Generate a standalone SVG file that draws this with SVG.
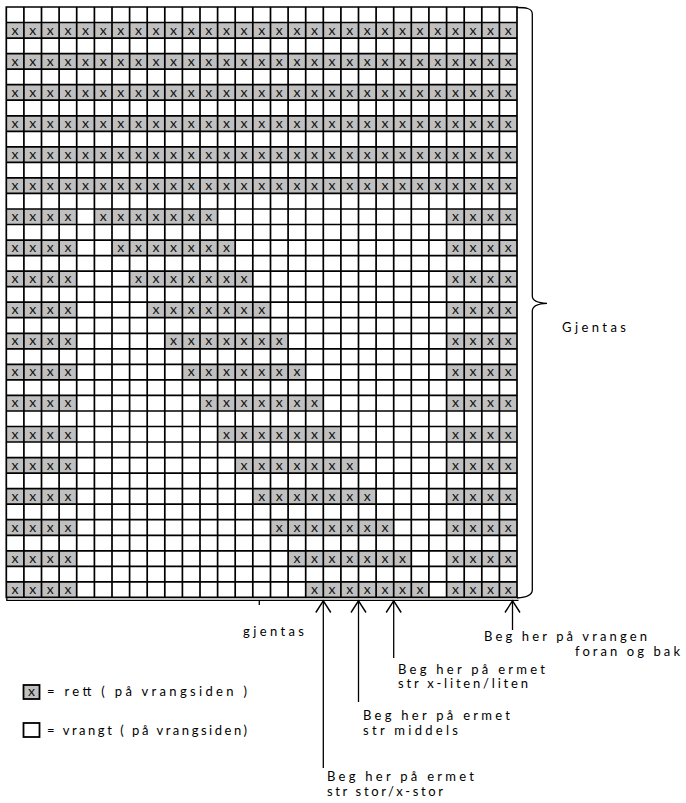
<svg xmlns="http://www.w3.org/2000/svg" width="686" height="803" viewBox="0 0 686 803">
<style>
.g{fill:#c0c0c0}
.xs text{font-family:Lato,"Liberation Sans",sans-serif;font-size:14px;text-anchor:middle;fill:#111}
.grid{fill:none;stroke:#000;stroke-width:1.7;stroke-linecap:square}
.thin{fill:none;stroke:#000;stroke-width:1.3}
.lbl{font-family:Lato,"Liberation Sans",sans-serif;font-size:13px;fill:#000}
</style>
<defs>
<marker id="ah" viewBox="-13 -9 14 18" refX="0" refY="0" markerWidth="14" markerHeight="18" markerUnits="userSpaceOnUse" orient="auto" overflow="visible">
<path d="M-11.7 -7.5L0 0L-11.7 7.5" fill="none" stroke="#000" stroke-width="1.4"/>
</marker>
</defs>
<rect width="686" height="803" fill="#fff"/>
<g id="chart">
<g id="fills">
<rect class="g" x="6.3" y="22.5" width="510.7" height="15.5"/>
<rect class="g" x="6.3" y="53.6" width="510.7" height="15.5"/>
<rect class="g" x="6.3" y="84.7" width="510.7" height="15.5"/>
<rect class="g" x="6.3" y="115.8" width="510.7" height="15.5"/>
<rect class="g" x="6.3" y="146.8" width="510.7" height="15.5"/>
<rect class="g" x="6.3" y="177.9" width="510.7" height="15.5"/>
<rect class="g" x="6.3" y="209" width="70.4" height="15.5"/><rect class="g" x="94.4" y="209" width="123.3" height="15.5"/><rect class="g" x="446.6" y="209" width="70.4" height="15.5"/>
<rect class="g" x="6.3" y="240.1" width="70.4" height="15.5"/><rect class="g" x="112" y="240.1" width="123.3" height="15.5"/><rect class="g" x="446.6" y="240.1" width="70.4" height="15.5"/>
<rect class="g" x="6.3" y="271.1" width="70.4" height="15.5"/><rect class="g" x="129.6" y="271.1" width="123.3" height="15.5"/><rect class="g" x="446.6" y="271.1" width="70.4" height="15.5"/>
<rect class="g" x="6.3" y="302.2" width="70.4" height="15.5"/><rect class="g" x="147.2" y="302.2" width="123.3" height="15.5"/><rect class="g" x="446.6" y="302.2" width="70.4" height="15.5"/>
<rect class="g" x="6.3" y="333.3" width="70.4" height="15.5"/><rect class="g" x="164.8" y="333.3" width="123.3" height="15.5"/><rect class="g" x="446.6" y="333.3" width="70.4" height="15.5"/>
<rect class="g" x="6.3" y="364.4" width="70.4" height="15.5"/><rect class="g" x="182.4" y="364.4" width="123.3" height="15.5"/><rect class="g" x="446.6" y="364.4" width="70.4" height="15.5"/>
<rect class="g" x="6.3" y="395.4" width="70.4" height="15.5"/><rect class="g" x="200" y="395.4" width="123.3" height="15.5"/><rect class="g" x="446.6" y="395.4" width="70.4" height="15.5"/>
<rect class="g" x="6.3" y="426.5" width="70.4" height="15.5"/><rect class="g" x="217.6" y="426.5" width="123.3" height="15.5"/><rect class="g" x="446.6" y="426.5" width="70.4" height="15.5"/>
<rect class="g" x="6.3" y="457.6" width="70.4" height="15.5"/><rect class="g" x="235.2" y="457.6" width="123.3" height="15.5"/><rect class="g" x="446.6" y="457.6" width="70.4" height="15.5"/>
<rect class="g" x="6.3" y="488.6" width="70.4" height="15.5"/><rect class="g" x="252.8" y="488.6" width="123.3" height="15.5"/><rect class="g" x="446.6" y="488.6" width="70.4" height="15.5"/>
<rect class="g" x="6.3" y="519.7" width="70.4" height="15.5"/><rect class="g" x="270.5" y="519.7" width="123.3" height="15.5"/><rect class="g" x="446.6" y="519.7" width="70.4" height="15.5"/>
<rect class="g" x="6.3" y="550.8" width="70.4" height="15.5"/><rect class="g" x="288.1" y="550.8" width="123.3" height="15.5"/><rect class="g" x="446.6" y="550.8" width="70.4" height="15.5"/>
<rect class="g" x="6.3" y="581.9" width="70.4" height="15.5"/><rect class="g" x="305.7" y="581.9" width="123.3" height="15.5"/><rect class="g" x="446.6" y="581.9" width="70.4" height="15.5"/>
</g>
<path class="grid" d="M6.3 7V597.4M23.9 7V597.4M41.5 7V597.4M59.1 7V597.4M76.7 7V597.4M94.4 7V597.4M112 7V597.4M129.6 7V597.4M147.2 7V597.4M164.8 7V597.4M182.4 7V597.4M200 7V597.4M217.6 7V597.4M235.2 7V597.4M252.8 7V597.4M270.5 7V597.4M288.1 7V597.4M305.7 7V597.4M323.3 7V597.4M340.9 7V597.4M358.5 7V597.4M376.1 7V597.4M393.7 7V597.4M411.3 7V597.4M428.9 7V597.4M446.6 7V597.4M464.2 7V597.4M481.8 7V597.4M499.4 7V597.4M517 7V597.4
M6.3 7H517M6.3 22.5H517M6.3 38.1H517M6.3 53.6H517M6.3 69.1H517M6.3 84.7H517M6.3 100.2H517M6.3 115.8H517M6.3 131.3H517M6.3 146.8H517M6.3 162.4H517M6.3 177.9H517M6.3 193.4H517M6.3 209H517M6.3 224.5H517M6.3 240.1H517M6.3 255.6H517M6.3 271.1H517M6.3 286.7H517M6.3 302.2H517M6.3 317.7H517M6.3 333.3H517M6.3 348.8H517M6.3 364.4H517M6.3 379.9H517M6.3 395.4H517M6.3 411H517M6.3 426.5H517M6.3 442H517M6.3 457.6H517M6.3 473.1H517M6.3 488.6H517M6.3 504.2H517M6.3 519.7H517M6.3 535.3H517M6.3 550.8H517M6.3 566.3H517M6.3 581.9H517M6.3 597.4H517"/>
<g class="xs" transform="translate(0 34.5)"><text x="15.1">x</text><text x="32.7">x</text><text x="50.3">x</text><text x="67.9">x</text><text x="85.5">x</text><text x="103.2">x</text><text x="120.8">x</text><text x="138.4">x</text><text x="156">x</text><text x="173.6">x</text><text x="191.2">x</text><text x="208.8">x</text><text x="226.4">x</text><text x="244">x</text><text x="261.7">x</text><text x="279.3">x</text><text x="296.9">x</text><text x="314.5">x</text><text x="332.1">x</text><text x="349.7">x</text><text x="367.3">x</text><text x="384.9">x</text><text x="402.5">x</text><text x="420.1">x</text><text x="437.8">x</text><text x="455.4">x</text><text x="473">x</text><text x="490.6">x</text><text x="508.2">x</text></g>
<g class="xs" transform="translate(0 65.6)"><text x="15.1">x</text><text x="32.7">x</text><text x="50.3">x</text><text x="67.9">x</text><text x="85.5">x</text><text x="103.2">x</text><text x="120.8">x</text><text x="138.4">x</text><text x="156">x</text><text x="173.6">x</text><text x="191.2">x</text><text x="208.8">x</text><text x="226.4">x</text><text x="244">x</text><text x="261.7">x</text><text x="279.3">x</text><text x="296.9">x</text><text x="314.5">x</text><text x="332.1">x</text><text x="349.7">x</text><text x="367.3">x</text><text x="384.9">x</text><text x="402.5">x</text><text x="420.1">x</text><text x="437.8">x</text><text x="455.4">x</text><text x="473">x</text><text x="490.6">x</text><text x="508.2">x</text></g>
<g class="xs" transform="translate(0 96.7)"><text x="15.1">x</text><text x="32.7">x</text><text x="50.3">x</text><text x="67.9">x</text><text x="85.5">x</text><text x="103.2">x</text><text x="120.8">x</text><text x="138.4">x</text><text x="156">x</text><text x="173.6">x</text><text x="191.2">x</text><text x="208.8">x</text><text x="226.4">x</text><text x="244">x</text><text x="261.7">x</text><text x="279.3">x</text><text x="296.9">x</text><text x="314.5">x</text><text x="332.1">x</text><text x="349.7">x</text><text x="367.3">x</text><text x="384.9">x</text><text x="402.5">x</text><text x="420.1">x</text><text x="437.8">x</text><text x="455.4">x</text><text x="473">x</text><text x="490.6">x</text><text x="508.2">x</text></g>
<g class="xs" transform="translate(0 127.8)"><text x="15.1">x</text><text x="32.7">x</text><text x="50.3">x</text><text x="67.9">x</text><text x="85.5">x</text><text x="103.2">x</text><text x="120.8">x</text><text x="138.4">x</text><text x="156">x</text><text x="173.6">x</text><text x="191.2">x</text><text x="208.8">x</text><text x="226.4">x</text><text x="244">x</text><text x="261.7">x</text><text x="279.3">x</text><text x="296.9">x</text><text x="314.5">x</text><text x="332.1">x</text><text x="349.7">x</text><text x="367.3">x</text><text x="384.9">x</text><text x="402.5">x</text><text x="420.1">x</text><text x="437.8">x</text><text x="455.4">x</text><text x="473">x</text><text x="490.6">x</text><text x="508.2">x</text></g>
<g class="xs" transform="translate(0 158.8)"><text x="15.1">x</text><text x="32.7">x</text><text x="50.3">x</text><text x="67.9">x</text><text x="85.5">x</text><text x="103.2">x</text><text x="120.8">x</text><text x="138.4">x</text><text x="156">x</text><text x="173.6">x</text><text x="191.2">x</text><text x="208.8">x</text><text x="226.4">x</text><text x="244">x</text><text x="261.7">x</text><text x="279.3">x</text><text x="296.9">x</text><text x="314.5">x</text><text x="332.1">x</text><text x="349.7">x</text><text x="367.3">x</text><text x="384.9">x</text><text x="402.5">x</text><text x="420.1">x</text><text x="437.8">x</text><text x="455.4">x</text><text x="473">x</text><text x="490.6">x</text><text x="508.2">x</text></g>
<g class="xs" transform="translate(0 189.9)"><text x="15.1">x</text><text x="32.7">x</text><text x="50.3">x</text><text x="67.9">x</text><text x="85.5">x</text><text x="103.2">x</text><text x="120.8">x</text><text x="138.4">x</text><text x="156">x</text><text x="173.6">x</text><text x="191.2">x</text><text x="208.8">x</text><text x="226.4">x</text><text x="244">x</text><text x="261.7">x</text><text x="279.3">x</text><text x="296.9">x</text><text x="314.5">x</text><text x="332.1">x</text><text x="349.7">x</text><text x="367.3">x</text><text x="384.9">x</text><text x="402.5">x</text><text x="420.1">x</text><text x="437.8">x</text><text x="455.4">x</text><text x="473">x</text><text x="490.6">x</text><text x="508.2">x</text></g>
<g class="xs" transform="translate(0 221)"><text x="15.1">x</text><text x="32.7">x</text><text x="50.3">x</text><text x="67.9">x</text><text x="103.2">x</text><text x="120.8">x</text><text x="138.4">x</text><text x="156">x</text><text x="173.6">x</text><text x="191.2">x</text><text x="208.8">x</text><text x="455.4">x</text><text x="473">x</text><text x="490.6">x</text><text x="508.2">x</text></g>
<g class="xs" transform="translate(0 252.1)"><text x="15.1">x</text><text x="32.7">x</text><text x="50.3">x</text><text x="67.9">x</text><text x="120.8">x</text><text x="138.4">x</text><text x="156">x</text><text x="173.6">x</text><text x="191.2">x</text><text x="208.8">x</text><text x="226.4">x</text><text x="455.4">x</text><text x="473">x</text><text x="490.6">x</text><text x="508.2">x</text></g>
<g class="xs" transform="translate(0 283.1)"><text x="15.1">x</text><text x="32.7">x</text><text x="50.3">x</text><text x="67.9">x</text><text x="138.4">x</text><text x="156">x</text><text x="173.6">x</text><text x="191.2">x</text><text x="208.8">x</text><text x="226.4">x</text><text x="244">x</text><text x="455.4">x</text><text x="473">x</text><text x="490.6">x</text><text x="508.2">x</text></g>
<g class="xs" transform="translate(0 314.2)"><text x="15.1">x</text><text x="32.7">x</text><text x="50.3">x</text><text x="67.9">x</text><text x="156">x</text><text x="173.6">x</text><text x="191.2">x</text><text x="208.8">x</text><text x="226.4">x</text><text x="244">x</text><text x="261.7">x</text><text x="455.4">x</text><text x="473">x</text><text x="490.6">x</text><text x="508.2">x</text></g>
<g class="xs" transform="translate(0 345.3)"><text x="15.1">x</text><text x="32.7">x</text><text x="50.3">x</text><text x="67.9">x</text><text x="173.6">x</text><text x="191.2">x</text><text x="208.8">x</text><text x="226.4">x</text><text x="244">x</text><text x="261.7">x</text><text x="279.3">x</text><text x="455.4">x</text><text x="473">x</text><text x="490.6">x</text><text x="508.2">x</text></g>
<g class="xs" transform="translate(0 376.4)"><text x="15.1">x</text><text x="32.7">x</text><text x="50.3">x</text><text x="67.9">x</text><text x="191.2">x</text><text x="208.8">x</text><text x="226.4">x</text><text x="244">x</text><text x="261.7">x</text><text x="279.3">x</text><text x="296.9">x</text><text x="455.4">x</text><text x="473">x</text><text x="490.6">x</text><text x="508.2">x</text></g>
<g class="xs" transform="translate(0 407.4)"><text x="15.1">x</text><text x="32.7">x</text><text x="50.3">x</text><text x="67.9">x</text><text x="208.8">x</text><text x="226.4">x</text><text x="244">x</text><text x="261.7">x</text><text x="279.3">x</text><text x="296.9">x</text><text x="314.5">x</text><text x="455.4">x</text><text x="473">x</text><text x="490.6">x</text><text x="508.2">x</text></g>
<g class="xs" transform="translate(0 438.5)"><text x="15.1">x</text><text x="32.7">x</text><text x="50.3">x</text><text x="67.9">x</text><text x="226.4">x</text><text x="244">x</text><text x="261.7">x</text><text x="279.3">x</text><text x="296.9">x</text><text x="314.5">x</text><text x="332.1">x</text><text x="455.4">x</text><text x="473">x</text><text x="490.6">x</text><text x="508.2">x</text></g>
<g class="xs" transform="translate(0 469.6)"><text x="15.1">x</text><text x="32.7">x</text><text x="50.3">x</text><text x="67.9">x</text><text x="244">x</text><text x="261.7">x</text><text x="279.3">x</text><text x="296.9">x</text><text x="314.5">x</text><text x="332.1">x</text><text x="349.7">x</text><text x="455.4">x</text><text x="473">x</text><text x="490.6">x</text><text x="508.2">x</text></g>
<g class="xs" transform="translate(0 500.6)"><text x="15.1">x</text><text x="32.7">x</text><text x="50.3">x</text><text x="67.9">x</text><text x="261.7">x</text><text x="279.3">x</text><text x="296.9">x</text><text x="314.5">x</text><text x="332.1">x</text><text x="349.7">x</text><text x="367.3">x</text><text x="455.4">x</text><text x="473">x</text><text x="490.6">x</text><text x="508.2">x</text></g>
<g class="xs" transform="translate(0 531.7)"><text x="15.1">x</text><text x="32.7">x</text><text x="50.3">x</text><text x="67.9">x</text><text x="279.3">x</text><text x="296.9">x</text><text x="314.5">x</text><text x="332.1">x</text><text x="349.7">x</text><text x="367.3">x</text><text x="384.9">x</text><text x="455.4">x</text><text x="473">x</text><text x="490.6">x</text><text x="508.2">x</text></g>
<g class="xs" transform="translate(0 562.8)"><text x="15.1">x</text><text x="32.7">x</text><text x="50.3">x</text><text x="67.9">x</text><text x="296.9">x</text><text x="314.5">x</text><text x="332.1">x</text><text x="349.7">x</text><text x="367.3">x</text><text x="384.9">x</text><text x="402.5">x</text><text x="455.4">x</text><text x="473">x</text><text x="490.6">x</text><text x="508.2">x</text></g>
<g class="xs" transform="translate(0 593.9)"><text x="15.1">x</text><text x="32.7">x</text><text x="50.3">x</text><text x="67.9">x</text><text x="314.5">x</text><text x="332.1">x</text><text x="349.7">x</text><text x="367.3">x</text><text x="384.9">x</text><text x="402.5">x</text><text x="420.1">x</text><text x="455.4">x</text><text x="473">x</text><text x="490.6">x</text><text x="508.2">x</text></g>
</g>
<g id="brace-right">
<path class="thin" d="M517 7.5C525 7.5 532.3 8 532.3 14V296C532.3 300.5 538 303 547 303.3C538 303.6 532.3 306 532.3 311V590C532.3 596 525 597.5 517 598"/>
<text class="lbl" x="562" y="332" textLength="64" lengthAdjust="spacing">Gjentas</text>
</g>
<g id="brace-bottom">
<path class="thin" d="M6.8 597.5V600.3H518.5M259.3 600.3V605"/>
<text class="lbl" x="243" y="636" textLength="61" lengthAdjust="spacing">gjentas</text>
</g>
<g id="connectors">
<line class="thin" x1="323.3" y1="768" x2="323.3" y2="600.8" marker-end="url(#ah)"/>
<line class="thin" x1="358.5" y1="702" x2="358.5" y2="600.8" marker-end="url(#ah)"/>
<line class="thin" x1="393.7" y1="658" x2="393.7" y2="600.8" marker-end="url(#ah)"/>
<line class="thin" x1="512.5" y1="630" x2="512.5" y2="600.8" marker-end="url(#ah)"/>
</g>
<g id="label-vrangen">
<text class="lbl" x="484" y="641" textLength="163" lengthAdjust="spacing">Beg her på vrangen</text>
<text class="lbl" x="575" y="655.8" textLength="105" lengthAdjust="spacing">foran og bak</text>
</g>
<g id="label-xliten">
<text class="lbl" x="398" y="673.5" textLength="147" lengthAdjust="spacing">Beg her på ermet</text>
<text class="lbl" x="398" y="688.3" textLength="130" lengthAdjust="spacing">str x-liten/liten</text>
</g>
<g id="label-middels">
<text class="lbl" x="363" y="720" textLength="147" lengthAdjust="spacing">Beg her på ermet</text>
<text class="lbl" x="363" y="734.8" textLength="95" lengthAdjust="spacing">str middels</text>
</g>
<g id="label-stor">
<text class="lbl" x="327" y="781" textLength="147" lengthAdjust="spacing">Beg her på ermet</text>
<text class="lbl" x="327" y="795.8" textLength="116" lengthAdjust="spacing">str stor/x-stor</text>
</g>
<g id="legend-rett">
<rect x="23.5" y="685" width="16" height="14" fill="#c0c0c0" stroke="#000" stroke-width="1.8"/>
<text x="31.5" y="696" font-family="Lato,'Liberation Sans',sans-serif" font-size="14" text-anchor="middle" fill="#111">x</text>
<text class="lbl" x="47" y="696" textLength="200" lengthAdjust="spacing">= rett ( på vrangsiden )</text>
</g>
<g id="legend-vrangt">
<rect x="23.5" y="723" width="16" height="14" fill="#fff" stroke="#000" stroke-width="1.8"/>
<text class="lbl" x="47" y="735" textLength="200" lengthAdjust="spacing">= vrangt ( på vrangsiden)</text>
</g>
</svg>
